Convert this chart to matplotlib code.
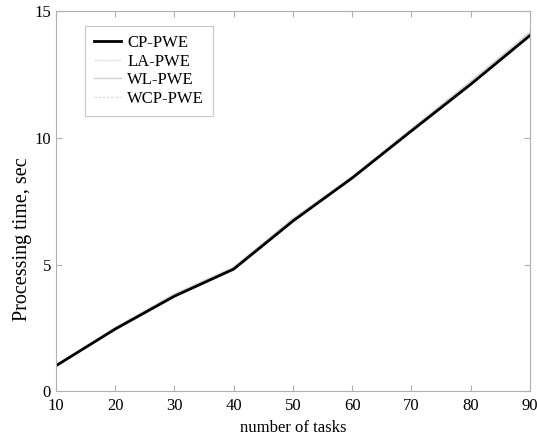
import matplotlib
matplotlib.use("Agg")
import matplotlib.pyplot as plt

tasks = [10, 20, 30, 40, 50, 60, 70, 80, 90]
cp_pwe = [1.0, 2.45, 3.75, 4.82, 6.72, 8.42, 10.28, 12.12, 14.05]
la_pwe = [1.0, 2.5, 3.85, 4.9, 6.82, 8.48, 10.38, 12.25, 14.2]
wl_pwe = [1.0, 2.5, 3.82, 4.88, 6.8, 8.46, 10.35, 12.22, 14.15]
wcp_pwe = [1.0, 2.48, 3.8, 4.86, 6.78, 8.45, 10.33, 12.2, 14.12]

plt.rcParams['font.family'] = ['Liberation Serif', 'DejaVu Serif']

fig = plt.figure(figsize=(5.37, 4.38), dpi=100)
ax = fig.add_axes([0.104, 0.107, 0.883, 0.867])

ax.plot(tasks, la_pwe, color='#d8d8d8', lw=1.0, ls=(0, (1, 0.5)), label='LA-PWE')
ax.plot(tasks, wl_pwe, color='#cfcfcf', lw=1.0, label='WL-PWE')
ax.plot(tasks, wcp_pwe, color='#dddddd', lw=1.0, ls=(0, (2, 1)), label='WCP-PWE')
ax.plot(tasks, cp_pwe, color='black', lw=2.0, label='CP-PWE')

ax.set_xlim(10, 90)
ax.set_ylim(0, 15)
ax.set_xticks(tasks)
ax.set_yticks([0, 5, 10, 15])
ax.tick_params(direction='in', length=4, color='#b0b0b0', labelsize=12, top=True, right=True)
ax.tick_params(axis='x', pad=5)
for s in ax.spines.values():
    s.set_color('#b0b0b0')
    s.set_linewidth(0.8)

ax.set_xlabel('number of tasks', fontsize=12)
ax.set_ylabel('Processing time, sec', fontsize=14.5)
ax.yaxis.set_label_coords(-0.05, 0.40)

handles, labels = ax.get_legend_handles_labels()
order = [3, 0, 1, 2]
leg = ax.legend([handles[i] for i in order], [labels[i] for i in order],
                loc='upper left', bbox_to_anchor=(0.061, 0.962), fontsize=12,
                fancybox=False, framealpha=1, handlelength=1.6, handletextpad=0.4,
                borderpad=0.55, borderaxespad=0, labelspacing=0.16)
leg.get_frame().set_edgecolor('#c8c8c8')
leg.get_frame().set_linewidth(0.8)

fig.savefig('out.png', dpi=100)
